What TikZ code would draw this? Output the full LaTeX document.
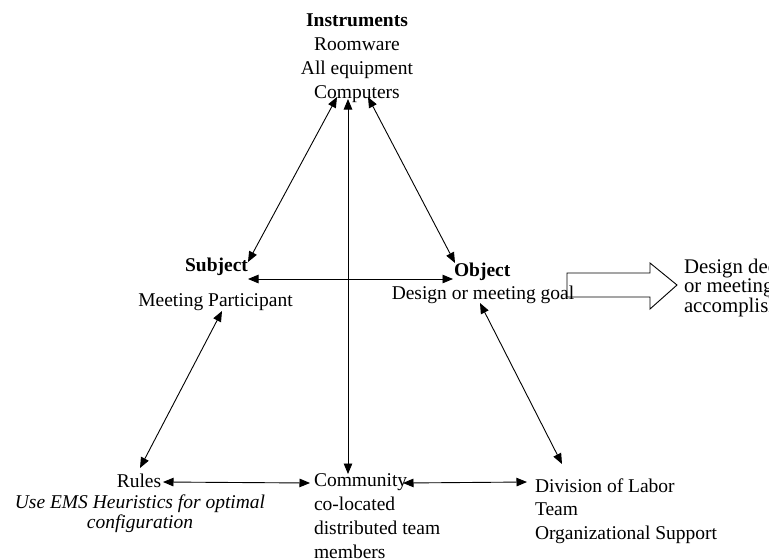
\documentclass[tikz,border=0pt]{standalone}
\usepackage{fontspec}
\setmainfont{Liberation Serif}
\usetikzlibrary{arrows.meta,calc}
\begin{document}
\begin{tikzpicture}[x=1pt,y=-1pt,
  lbl/.style={inner sep=0pt,outer sep=0pt,font=\fontsize{19.5}{23.7}\selectfont},
  tightlbl/.style={lbl,font=\fontsize{19.5}{20.5}\selectfont},
  resultlbl/.style={lbl,font=\fontsize{20.8}{19.2}\selectfont},
  link/.style={line width=0.9pt,{Triangle[length=10.5pt,width=8.5pt]}-{Triangle[length=10.5pt,width=8.5pt]}},
  bigarrow/.style={line width=0.9pt,line join=miter}]
\path[use as bounding box] (0,0) rectangle (769,558);
\clip (0,0) rectangle (769,558);

% labels (the base anchor of a multi-line node is its last line's baseline)
\node[lbl,anchor=base,align=center] (inst) at (357,98)
  {\textbf{Instruments}\\Roomware\\All equipment\\Computers};
\node[lbl,anchor=base] (subj) at (216.5,271) {\textbf{Subject}};
\node[lbl,anchor=base] (subjtxt) at (215.5,306) {Meeting Participant};
\node[lbl,anchor=base west] (obj) at (454,276) {\textbf{Object}};
\node[lbl,anchor=base] (objtxt) at (483,299) {Design or meeting goal};
\node[lbl,anchor=base] (rules) at (139,487) {Rules};
\node[tightlbl,anchor=base,align=center] (rulestxt) at (140,528.5)
  {\textit{Use EMS Heuristics for optimal}\\\textit{configuration}};
\node[lbl,anchor=base west,align=left] (comm) at (314,558)
  {Community\\co-located\\distributed team\\members};
\node[lbl,anchor=base west,align=left] (div) at (535,539.5)
  {Division of Labor\\Team\\Organizational Support};
\node[resultlbl,anchor=base west,align=left] (result) at (684,312)
  {Design decisions\\or meeting goals\\accomplished};

% connectors
\draw[link] ($(inst.base)+(-20,-1)$) -- ($(subj.base)+(31.5,-9)$);
\draw[link] ($(inst.base)+(-9,1)$) -- ($(comm.base west)+(34,-84)$);
\draw[link] ($(inst.base)+(11,-1)$) -- ($(obj.base west)+(1,-13)$);
\draw[link] ($(subj.base)+(31.5,8)$) -- ($(obj.base west)+(-1,3)$);
\draw[link] ($(subjtxt.base)+(6.5,5)$) -- ($(rules.base)+(1,-19)$);
\draw[link] ($(objtxt.base)+(-3,4)$) -- ($(div.base west)+(27,-75.5)$);
\draw[link] ($(rules.base)+(24,-5)$) -- ($(comm.base west)+(-4,-75)$);
\draw[link] ($(comm.base west)+(89,-75)$) -- ($(div.base west)+(-8,-57.5)$);

% outline arrow to the result
\draw[bigarrow] (567,273) -- (650,273) -- (650,263) -- (677,285)
  -- (650,309) -- (650,297) -- (567,297) -- cycle;
\end{tikzpicture}
\end{document}
